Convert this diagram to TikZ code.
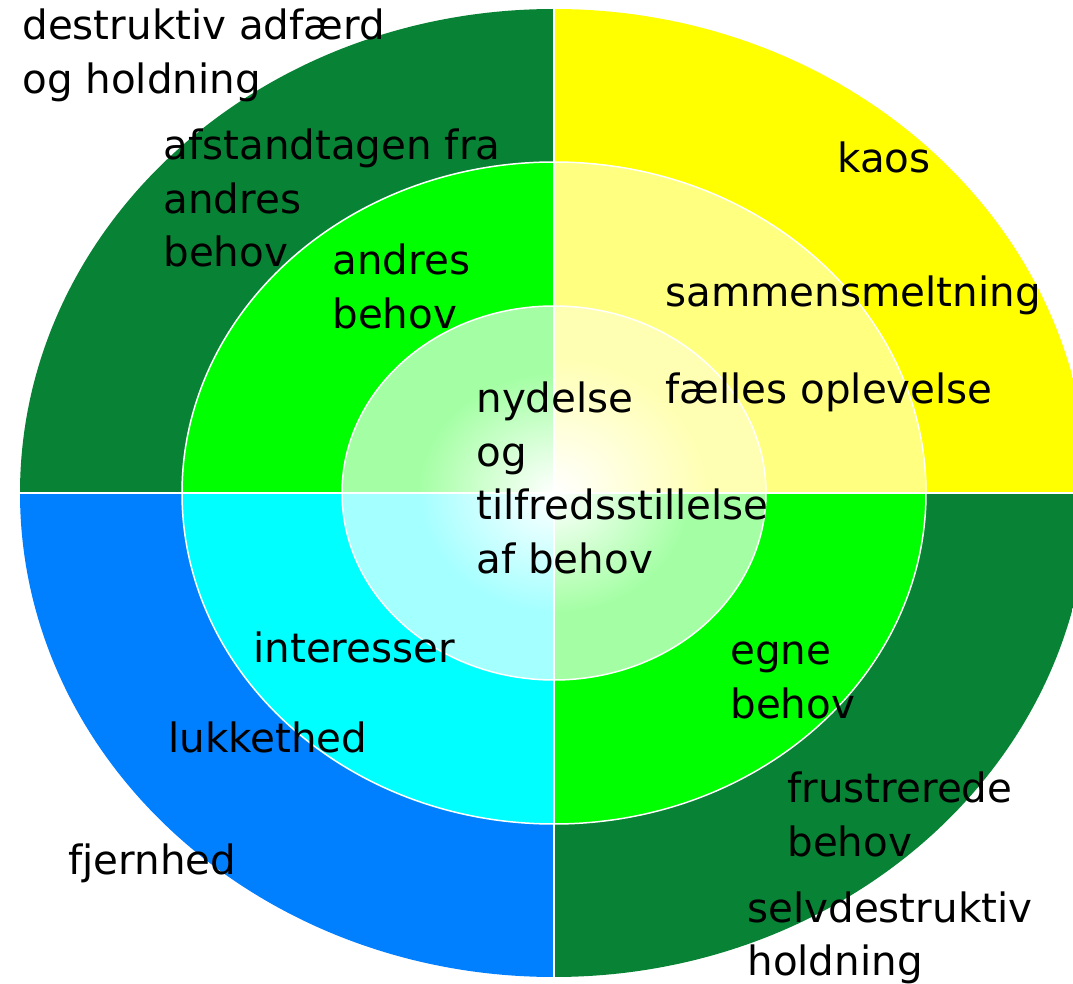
\documentclass[tikz,border=0pt]{standalone}
\usepackage{fontspec}
\setmainfont{DejaVu Sans}
\definecolor{dkgreen}{RGB}{8,130,52}
\definecolor{ylw}{RGB}{255,255,0}
\definecolor{blu}{RGB}{0,128,255}
\definecolor{grn}{RGB}{0,255,0}
\definecolor{lylw}{RGB}{255,255,128}
\definecolor{cyn}{RGB}{0,255,255}
\definecolor{igreen}{RGB}{164,255,164}
\definecolor{iyellow}{RGB}{255,255,180}
\definecolor{icyan}{RGB}{164,255,255}
\pgfdeclareradialshading{shG}{\pgfpoint{0bp}{0bp}}{color(0bp)=(white); color(16bp)=(igreen); color(25bp)=(igreen); color(50bp)=(igreen)}
\pgfdeclareradialshading{shY}{\pgfpoint{0bp}{0bp}}{color(0bp)=(white); color(18bp)=(iyellow); color(25bp)=(iyellow); color(50bp)=(iyellow)}
\pgfdeclareradialshading{shC}{\pgfpoint{0bp}{0bp}}{color(0bp)=(white); color(16bp)=(icyan); color(25bp)=(icyan); color(50bp)=(icyan)}
\newcommand{\mlines}[1]{\begin{tabular}[t]{@{}l@{}}#1\end{tabular}}
\begin{document}
\begin{tikzpicture}[x=0.5pt,y=-0.5pt,
  lbl/.style={anchor=base west, inner sep=0pt, font=\fontsize{20.2}{26.75}\selectfont},
  sep/.style={draw=white, line width=1.2pt},
  ring/.style={draw=white, line width=0.75pt}]
\useasboundingbox (0,0) rectangle (1073,984);
\clip (0,0) rectangle (1073,984);
\coordinate (c) at (554,493);
\coordinate (tl) at (0,0);
\coordinate (tr) at (1100,0);
\coordinate (bl) at (0,990);
\coordinate (br) at (1100,990);
% outer ring
\begin{scope}
  \clip (c) ellipse [x radius=534, y radius=484];
  \fill[dkgreen] (tl) rectangle (c);
  \fill[ylw] (c) rectangle (tr);
  \fill[blu] (c) rectangle (bl);
  \fill[dkgreen] (c) rectangle (br);
\end{scope}
% middle ring
\begin{scope}
  \clip (c) ellipse [x radius=372, y radius=331];
  \fill[grn] (tl) rectangle (c);
  \fill[lylw] (c) rectangle (tr);
  \fill[cyn] (c) rectangle (bl);
  \fill[grn] (c) rectangle (br);
\end{scope}
% inner disc
\begin{scope}
  \clip (tl) rectangle (c);
  \shade[shading=shG] (c) ellipse [x radius=212, y radius=187];
\end{scope}
\begin{scope}
  \clip (c) rectangle (tr);
  \shade[shading=shY] (c) ellipse [x radius=212, y radius=187];
\end{scope}
\begin{scope}
  \clip (c) rectangle (bl);
  \shade[shading=shC] (c) ellipse [x radius=212, y radius=187];
\end{scope}
\begin{scope}
  \clip (c) rectangle (br);
  \shade[shading=shG] (c) ellipse [x radius=212, y radius=187];
\end{scope}
% separators
\draw[ring] (c) ellipse [x radius=372, y radius=331];
\draw[ring] (c) ellipse [x radius=212, y radius=187];
\coordinate (vt) at (554,5);
\coordinate (vb) at (554,984);
\coordinate (hl) at (15,493);
\coordinate (hr) at (1073,493);
\draw[sep] (vt) -- (vb);
\draw[sep] (hl) -- (hr);
% labels
\node[lbl] (t1) at (22,40) {\mlines{destruktiv adfærd\\og holdning}};
\node[lbl] (t2) at (163,160) {\mlines{afstandtagen fra\\andres\\behov}};
\node[lbl] (t3) at (332,275) {\mlines{andres\\behov}};
\node[lbl] (t4) at (837,173) {kaos};
\node[lbl] (t5) at (665,307) {sammensmeltning};
\node[lbl] (t6) at (665,404) {fælles oplevelse};
\node[lbl] (t7) at (476,413) {\mlines{nydelse\\og\\tilfredsstillelse\\af behov}};
\node[lbl] (t8) at (253,663) {interesser};
\node[lbl] (t9) at (168,753) {lukkethed};
\node[lbl] (t10) at (68,875) {fjernhed};
\node[lbl] (t11) at (730,665) {\mlines{egne\\behov}};
\node[lbl] (t12) at (787,803) {\mlines{frustrerede\\behov}};
\node[lbl] (t13) at (747,922) {\mlines{selvdestruktiv\\holdning}};
\end{tikzpicture}
\end{document}
